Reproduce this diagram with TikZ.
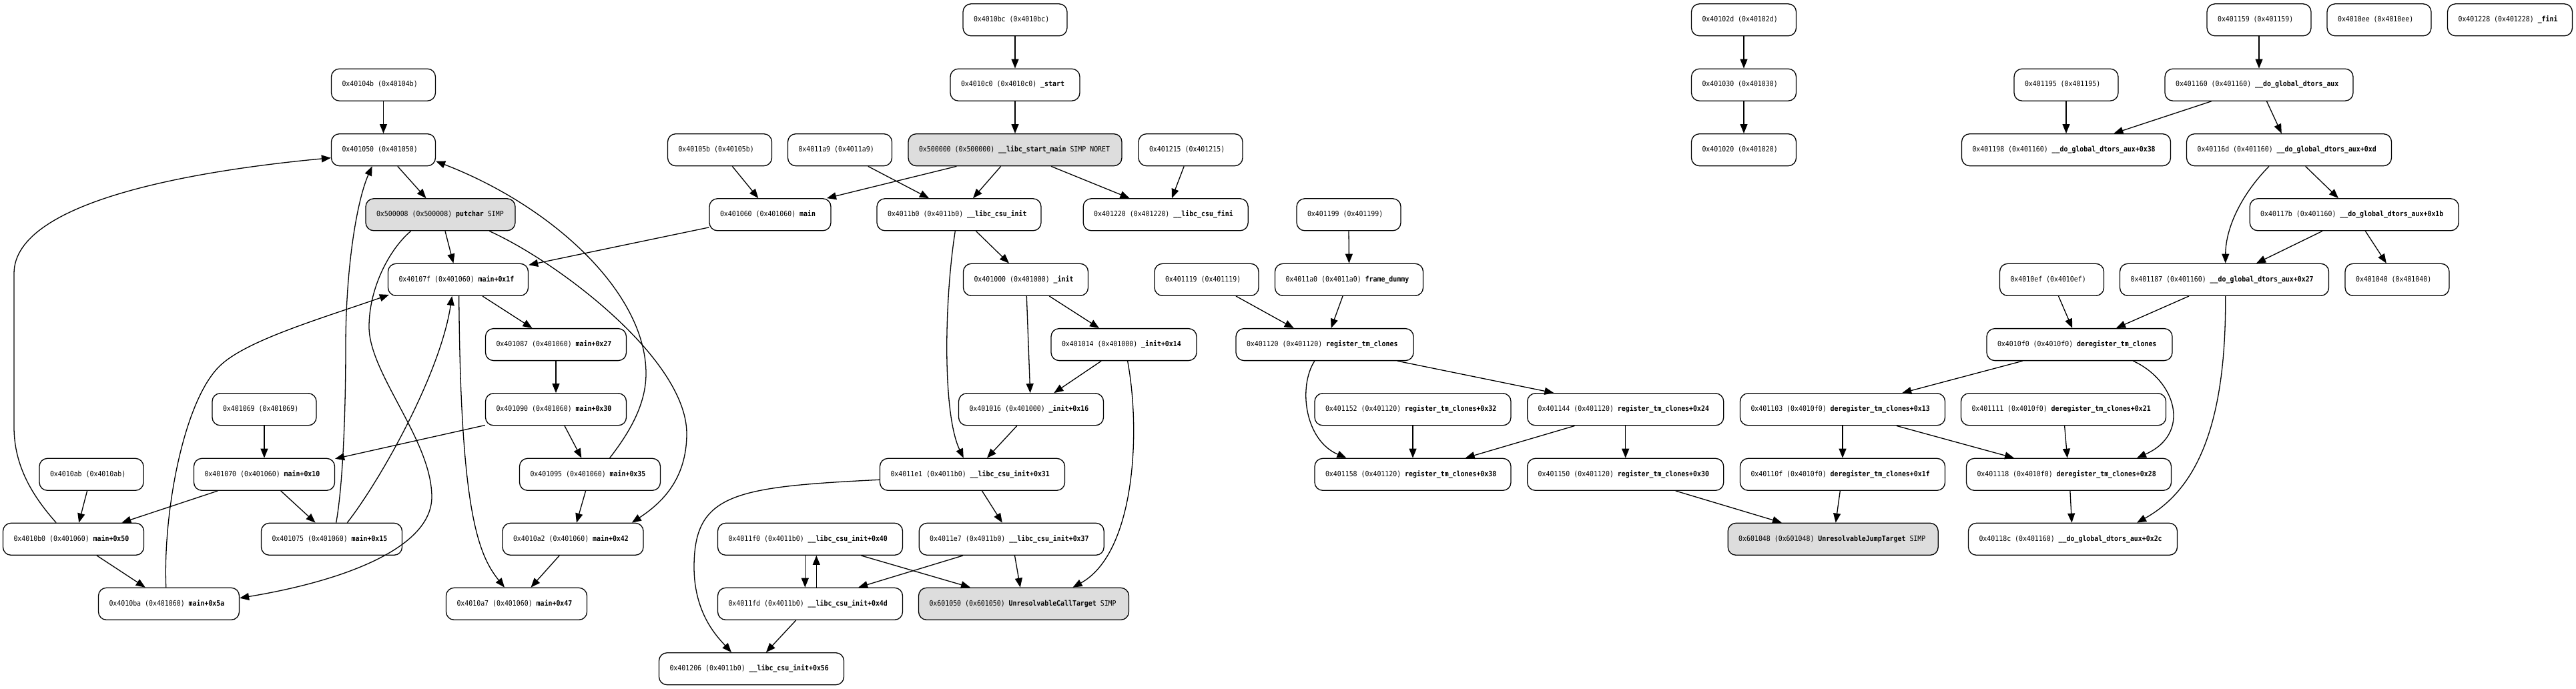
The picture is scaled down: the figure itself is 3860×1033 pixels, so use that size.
\documentclass[tikz,border=0pt]{standalone}
\usepackage{fontspec}
\newfontfamily\gfont[FakeStretch=0.9]{DejaVu Sans Mono}
\usetikzlibrary{arrows.meta}
\definecolor{nodegray}{RGB}{221,221,221}
\newcommand\lb[2]{\makebox[#1pt][l]{#2}}
\newcommand\bn[1]{\textbf{#1}}
\def\yA{29.8}\def\yB{127.2}\def\yC{224.7}\def\yD{321.8}\def\yE{419.3}\def\yF{516.6}
\def\yG{613.8}\def\yH{711.3}\def\yI{808.3}\def\yJ{905.3}\def\yK{1002.7}
\begin{document}
\begin{tikzpicture}[x=1pt,y=-1pt,
  box/.style={draw, line width=1.3pt, rounded corners=12pt, minimum height=48pt,
    inner xsep=16pt, inner ysep=0pt, text height=8pt, text depth=2.5pt,
    font={\gfont\fontsize{11pt}{13pt}\selectfont}, fill=white},
  gbox/.style={box, fill=nodegray},
  edge/.style={-{Triangle[length=14pt,width=11pt]}, line width=1.3pt}]
\fill[white] (0,0) rectangle (3860,1033);
\useasboundingbox (0,0) rectangle (3860,1033);
% row 0
\node[box] (n4010bc) at (1521,\yA) {\lb{124}{0x4010bc (0x4010bc)}};
\node[box] (n40102d) at (2613,\yA) {\lb{125}{0x40102d (0x40102d)}};
\node[box] (n401159) at (3385,\yA) {\lb{124}{0x401159 (0x401159)}};
\node[box] (n4010ee) at (3565,\yA) {\lb{124}{0x4010ee (0x4010ee)}};
\node[box] (n401228) at (3761,\yA) {\lb{155}{0x401228 (0x401228) \bn{\_fini}}};
% row 1
\node[box] (n40104b) at (574.5,\yB) {\lb{124}{0x40104b (0x40104b)}};
\node[box] (n4010c0) at (1521,\yB) {\lb{162}{0x4010c0 (0x4010c0) \bn{\_start}}};
\node[box] (n401030) at (2613,\yB) {\lb{125}{0x401030 (0x401030)}};
\node[box] (n401195) at (3096,\yB) {\lb{124}{0x401195 (0x401195)}};
\node[box] (n401160) at (3385,\yB) {\lb{250}{0x401160 (0x401160) \bn{\_\_do\_global\_dtors\_aux}}};
% row 2
\node[box] (n401050) at (574.5,\yC) {\lb{124}{0x401050 (0x401050)}};
\node[box] (n40105b) at (1078.5,\yC) {\lb{124}{0x40105b (0x40105b)}};
\node[box] (n4011a9) at (1258.5,\yC) {\lb{124}{0x4011a9 (0x4011a9)}};
\node[gbox] (n500000) at (1521,\yC) {\lb{288}{0x500000 (0x500000) \bn{\_\_libc\_start\_main} SIMP NORET}};
\node[box] (n401215) at (1784,\yC) {\lb{124}{0x401215 (0x401215)}};
\node[box] (n401020) at (2613,\yC) {\lb{125}{0x401020 (0x401020)}};
\node[box] (n401198) at (3096,\yC) {\lb{281}{0x401198 (0x401160) \bn{\_\_do\_global\_dtors\_aux+0x38}}};
\node[box] (n40116d) at (3430,\yC) {\lb{275}{0x40116d (0x401160) \bn{\_\_do\_global\_dtors\_aux+0xd}}};
% row 3
\node[gbox] (n500008) at (660,\yD) {\lb{192}{0x500008 (0x500008) \bn{putchar} SIMP}};
\node[box] (n401060) at (1154,\yD) {\lb{150}{0x401060 (0x401060) \bn{main}}};
\node[box] (n4011b0) at (1437,\yD) {\lb{214}{0x4011b0 (0x4011b0) \bn{\_\_libc\_csu\_init}}};
\node[box] (n401220) at (1746.7,\yD) {\lb{215}{0x401220 (0x401220) \bn{\_\_libc\_csu\_fini}}};
\node[box] (n401199) at (2021,\yD) {\lb{124}{0x401199 (0x401199)}};
\node[box] (n40117b) at (3527.7,\yD) {\lb{281}{0x40117b (0x401160) \bn{\_\_do\_global\_dtors\_aux+0x1b}}};
% row 4
\node[box] (n40107f) at (686.5,\yE) {\lb{178}{0x40107f (0x401060) \bn{main+0x1f}}};
\node[box] (n401000) at (1537,\yE) {\lb{155}{0x401000 (0x401000) \bn{\_init}}};
\node[box] (n401119) at (1808,\yE) {\lb{124}{0x401119 (0x401119)}};
\node[box] (n4011a0) at (2021.5,\yE) {\lb{190}{0x4011a0 (0x4011a0) \bn{frame\_dummy}}};
\node[box] (n4010ef) at (3074.5,\yE) {\lb{124}{0x4010ef (0x4010ef)}};
\node[box] (n401187) at (3333,\yE) {\lb{281}{0x401187 (0x401160) \bn{\_\_do\_global\_dtors\_aux+0x27}}};
\node[box] (n401040) at (3592,\yE) {\lb{124}{0x401040 (0x401040)}};
% row 5
\node[box] (n401087) at (833,\yF) {\lb{179}{0x401087 (0x401060) \bn{main+0x27}}};
\node[box] (n401014) at (1684,\yF) {\lb{186}{0x401014 (0x401000) \bn{\_init+0x14}}};
\node[box] (n401120) at (1985,\yF) {\lb{234}{0x401120 (0x401120) \bn{register\_tm\_clones}}};
\node[box] (n4010f0) at (3116,\yF) {\lb{246}{0x4010f0 (0x4010f0) \bn{deregister\_tm\_clones}}};
% row 6
\node[box] (n401069) at (396,\yG) {\lb{124}{0x401069 (0x401069)}};
\node[box] (n401090) at (833,\yG) {\lb{179}{0x401090 (0x401060) \bn{main+0x30}}};
\node[box] (n401016) at (1545,\yG) {\lb{185}{0x401016 (0x401000) \bn{\_init+0x16}}};
\node[box] (n401152) at (2117,\yG) {\lb{262}{0x401152 (0x401120) \bn{register\_tm\_clones+0x32}}};
\node[box] (n401144) at (2435.7,\yG) {\lb{262}{0x401144 (0x401120) \bn{register\_tm\_clones+0x24}}};
\node[box] (n401103) at (2761,\yG) {\lb{275}{0x401103 (0x4010f0) \bn{deregister\_tm\_clones+0x13}}};
\node[box] (n401111) at (3092,\yG) {\lb{275}{0x401111 (0x4010f0) \bn{deregister\_tm\_clones+0x21}}};
% row 7
\node[box] (n4010ab) at (137,\yH) {\lb{124}{0x4010ab (0x4010ab)}};
\node[box] (n401070) at (396,\yH) {\lb{179}{0x401070 (0x401060) \bn{main+0x10}}};
\node[box] (n401095) at (884,\yH) {\lb{179}{0x401095 (0x401060) \bn{main+0x35}}};
\node[box] (n4011e1) at (1457,\yH) {\lb{245}{0x4011e1 (0x4011b0) \bn{\_\_libc\_csu\_init+0x31}}};
\node[box] (n401158) at (2117,\yH) {\lb{262}{0x401158 (0x401120) \bn{register\_tm\_clones+0x38}}};
\node[box] (n401150) at (2435.7,\yH) {\lb{262}{0x401150 (0x401120) \bn{register\_tm\_clones+0x30}}};
\node[box] (n40110f) at (2761,\yH) {\lb{275}{0x40110f (0x4010f0) \bn{deregister\_tm\_clones+0x1f}}};
\node[box] (n401118) at (3100,\yH) {\lb{275}{0x401118 (0x4010f0) \bn{deregister\_tm\_clones+0x28}}};
% row 8
\node[box] (n4010b0) at (110,\yI) {\lb{179}{0x4010b0 (0x401060) \bn{main+0x50}}};
\node[box] (n401075) at (497,\yI) {\lb{179}{0x401075 (0x401060) \bn{main+0x15}}};
\node[box] (n4010a2) at (858.5,\yI) {\lb{179}{0x4010a2 (0x401060) \bn{main+0x42}}};
\node[box] (n4011f0) at (1214,\yI) {\lb{245}{0x4011f0 (0x4011b0) \bn{\_\_libc\_csu\_init+0x40}}};
\node[box] (n4011e7) at (1515.7,\yI) {\lb{245}{0x4011e7 (0x4011b0) \bn{\_\_libc\_csu\_init+0x37}}};
\node[gbox] (n601048) at (2746.7,\yI) {\lb{283}{0x601048 (0x601048) \bn{UnresolvableJumpTarget} SIMP}};
\node[box] (n40118c) at (3106,\yI) {\lb{281}{0x40118c (0x401160) \bn{\_\_do\_global\_dtors\_aux+0x2c}}};
% row 9
\node[box] (n4010ba) at (253,\yJ) {\lb{179}{0x4010ba (0x401060) \bn{main+0x5a}}};
\node[box] (n4010a7) at (774,\yJ) {\lb{179}{0x4010a7 (0x401060) \bn{main+0x47}}};
\node[box] (n4011fd) at (1214,\yJ) {\lb{245}{0x4011fd (0x4011b0) \bn{\_\_libc\_csu\_init+0x4d}}};
\node[gbox] (n601050) at (1534,\yJ) {\lb{283}{0x601050 (0x601050) \bn{UnresolvableCallTarget} SIMP}};
% row 10
\node[box] (n401206) at (1126,\yK) {\lb{245}{0x401206 (0x4011b0) \bn{\_\_libc\_csu\_init+0x56}}};

% straight edges
\draw[edge] (n40104b) -- (n401050);
\draw[edge] (n4010bc) -- (n4010c0);
\draw[edge] (n4010c0) -- (n500000);
\draw[edge] (n40102d) -- (n401030);
\draw[edge] (n401030) -- (n401020);
\draw[edge] (n401159) -- (n401160);
\draw[edge] (n401195) -- (n401198);
\draw[edge] (n401199.south) -- (n4011a0.north);
\draw[edge] (n401087) -- (n401090);
\draw[edge] (n401069) -- (n401070);
\draw[edge] (n401152) -- (n401158);
\draw[edge] (n401144) -- (n401150);
\draw[edge] (n401103) -- (n40110f);
\draw[edge] (n401060) -- (n40107f);
\draw[edge] (n401090) -- (n401070);

\draw[edge] ([xshift=21.3pt]n401050.south) -- ([xshift=-21.5pt]n500008.north);
\draw[edge] ([xshift=7pt]n500008.south) -- ([xshift=-7.1pt]n40107f.north);
\draw[edge] ([xshift=18.8pt]n40105b.south) -- ([xshift=-17.7pt]n401060.north);
\draw[edge] ([xshift=-87.6pt]n500000.south) -- ([xshift=85pt]n401060.north);
\draw[edge] ([xshift=42.2pt]n4011a9.south) -- ([xshift=-45pt]n4011b0.north);
\draw[edge] ([xshift=-21.3pt]n500000.south) -- ([xshift=21pt]n4011b0.north);
\draw[edge] ([xshift=54pt]n500000.south) -- ([xshift=-54.2pt]n401220.north);
\draw[edge] ([xshift=-9.8pt]n401215.south) -- ([xshift=9.3pt]n401220.north);
\draw[edge] ([xshift=25.4pt]n4011b0.south) -- ([xshift=-25pt]n401000.north);
\draw[edge] ([xshift=35.3pt]n401000.south) -- ([xshift=-37pt]n401014.north);
\draw[edge] ([xshift=1.3pt]n401000.south) -- ([xshift=-1.3pt]n401016.north);
\draw[edge] ([xshift=-33.8pt]n401014.south) -- ([xshift=34.3pt]n401016.north);
\draw[edge] ([xshift=-21.2pt]n401016.south) -- ([xshift=22pt]n4011e1.north);
\draw[edge] ([xshift=14.5pt]n4011e1.south) -- ([xshift=-13.9pt]n4011e7.north);
\draw[edge] ([xshift=-72.7pt]n4011e7.south) -- ([xshift=72.2pt]n4011fd.north);
\draw[edge] ([xshift=4.8pt]n4011e7.south) -- ([xshift=-5.2pt]n601050.north);
\draw[edge] ([xshift=76.4pt]n4011f0.south) -- ([xshift=-80pt]n601050.north);
\draw[edge] ([xshift=-7.7pt]n4011f0.south) -- ([xshift=-7.7pt]n4011fd.north);
\draw[edge] ([xshift=9.3pt]n4011fd.north) -- ([xshift=9.3pt]n4011f0.south);
\draw[edge] ([xshift=-21.3pt]n4011fd.south) -- ([xshift=21.9pt]n401206.north);
\draw[edge] ([xshift=36.5pt]n40107f.south) -- ([xshift=-35.5pt]n401087.north);
\draw[edge] ([xshift=13pt]n401090.south) -- ([xshift=-12.7pt]n401095.north);
\draw[edge] ([xshift=-6.4pt]n401095.south) -- ([xshift=5.4pt]n4010a2.north);
\draw[edge] ([xshift=-20.3pt]n4010a2.south) -- ([xshift=21.5pt]n4010a7.north);
\draw[edge] ([xshift=-69.7pt]n401070.south) -- ([xshift=72.4pt]n4010b0.north);
\draw[edge] ([xshift=24.8pt]n401070.south) -- ([xshift=-24.4pt]n401075.north);
\draw[edge] ([xshift=-6.4pt]n4010ab.south) -- ([xshift=8.2pt]n4010b0.north);
\draw[edge] ([xshift=35.1pt]n4010b0.south) -- ([xshift=-35.3pt]n4010ba.north);
\draw[edge] ([xshift=-9.5pt]n4011a0.south) -- ([xshift=9.6pt]n401120.north);
\draw[edge] ([xshift=44pt]n401119.south) -- ([xshift=-46.3pt]n401120.north);
\draw[edge] ([xshift=109pt]n401120.south) -- ([xshift=-107.3pt]n401144.north);
\draw[edge] ([xshift=-76.2pt]n401144.south) -- ([xshift=78.7pt]n401158.north);
\draw[edge] ([xshift=75.1pt]n401150.south) -- ([xshift=-76.8pt]n601048.north);
\draw[edge] ([xshift=-3.7pt]n40110f.south) -- ([xshift=4pt]n601048.north);
\draw[edge] ([xshift=81pt]n401103.south) -- ([xshift=-82pt]n401118.north);
\draw[edge] ([xshift=1.6pt]n401111.south) -- ([xshift=-2.3pt]n401118.north);
\draw[edge] ([xshift=-85.4pt]n4010f0.south) -- ([xshift=89.2pt]n401103.north);
\draw[edge] ([xshift=1.9pt]n401118.south) -- ([xshift=-1.6pt]n40118c.north);
\draw[edge] ([xshift=-53pt]n401187.south) -- ([xshift=55pt]n4010f0.north);
\draw[edge] ([xshift=10pt]n4010ef.south) -- ([xshift=-10.8pt]n4010f0.north);
\draw[edge] ([xshift=-71.4pt]n401160.south) -- ([xshift=71.4pt]n401198.north);
\draw[edge] ([xshift=11.5pt]n401160.south) -- ([xshift=-11.2pt]n40116d.north);
\draw[edge] ([xshift=24.6pt]n40116d.south) -- ([xshift=-23.8pt]n40117b.north);
\draw[edge] ([xshift=-47.8pt]n40117b.south) -- ([xshift=48pt]n401187.north);
\draw[edge] ([xshift=16.6pt]n40117b.south) -- ([xshift=-16.2pt]n401040.north);

% curved edges
\draw[edge] ([xshift=-44.3pt]n500008.south) .. controls (585,372) and (553,430) .. (553,490)
  .. controls (553,560) and (647,660) .. (647,745)
  .. controls (647,820) and (520,870) .. ([yshift=8.6pt]n4010ba.east);
\draw[edge] ([xshift=73.3pt]n500008.south) .. controls (840,395) and (1029,540) .. (1029,650)
  .. controls (1029,720) and (990,755) .. ([xshift=88.3pt]n4010a2.north);
\draw[edge] ([xshift=29.6pt]n401095.north) .. controls (950,640) and (968,600) .. (968,560)
  .. controls (968,440) and (830,310) .. ([yshift=-17pt]n401050.east);
\draw[edge] ([xshift=1.2pt]n40107f.south) .. controls (690,760) and (715,830) .. ([xshift=-18pt]n4010a7.north);
\draw[edge] ([xshift=6.7pt]n401075.north) .. controls (515,720) and (518,600) .. (518,520)
  .. controls (518,400) and (535,300) .. ([xshift=-16.9pt]n401050.south);
\draw[edge] ([xshift=23.3pt]n401075.north) .. controls (570,720) and (660,560) .. ([xshift=-9.2pt]n40107f.south);
\draw[edge] ([xshift=-4.2pt]n4010ba.north) .. controls (244,770) and (275,600) .. (330,548)
  .. controls (370,510) and (480,478) .. ([xshift=2pt,yshift=2pt]n40107f.south west);
\draw[edge] ([xshift=-25.8pt]n4010b0.north) .. controls (50,745) and (21,700) .. (21,640) -- (21,410)
  .. controls (21,300) and (300,255) .. ([yshift=-12pt]n401050.west);
\draw[edge] ([xshift=-5.7pt]n4011b0.south) .. controls (1415,450) and (1412,620) .. ([xshift=-13.2pt]n4011e1.north);
\draw[edge] ([xshift=5.6pt]n401014.south) .. controls (1710,650) and (1700,830) .. ([xshift=73.5pt]n601050.north);
\draw[edge] ([yshift=-8pt]n4011e1.west) .. controls (1100,730) and (1040,740) .. (1040,850)
  .. controls (1040,920) and (1075,955) .. ([xshift=-30pt]n401206.north);
\draw[edge] ([xshift=-15.2pt]n401120.south) .. controls (1945,580) and (1955,660) .. ([xshift=-99.6pt]n401158.north);
\draw[edge] ([xshift=80.4pt]n4010f0.south) .. controls (3260,570) and (3285,650) .. ([xshift=102pt]n401118.north);
\draw[edge] ([xshift=1.7pt]n401187.south) .. controls (3336,640) and (3290,735) .. ([xshift=96pt]n40118c.north);
\draw[edge] ([xshift=-30pt]n40116d.south) .. controls (3360,290) and (3335,340) .. ([xshift=1.7pt]n401187.north);
\end{tikzpicture}
\end{document}
